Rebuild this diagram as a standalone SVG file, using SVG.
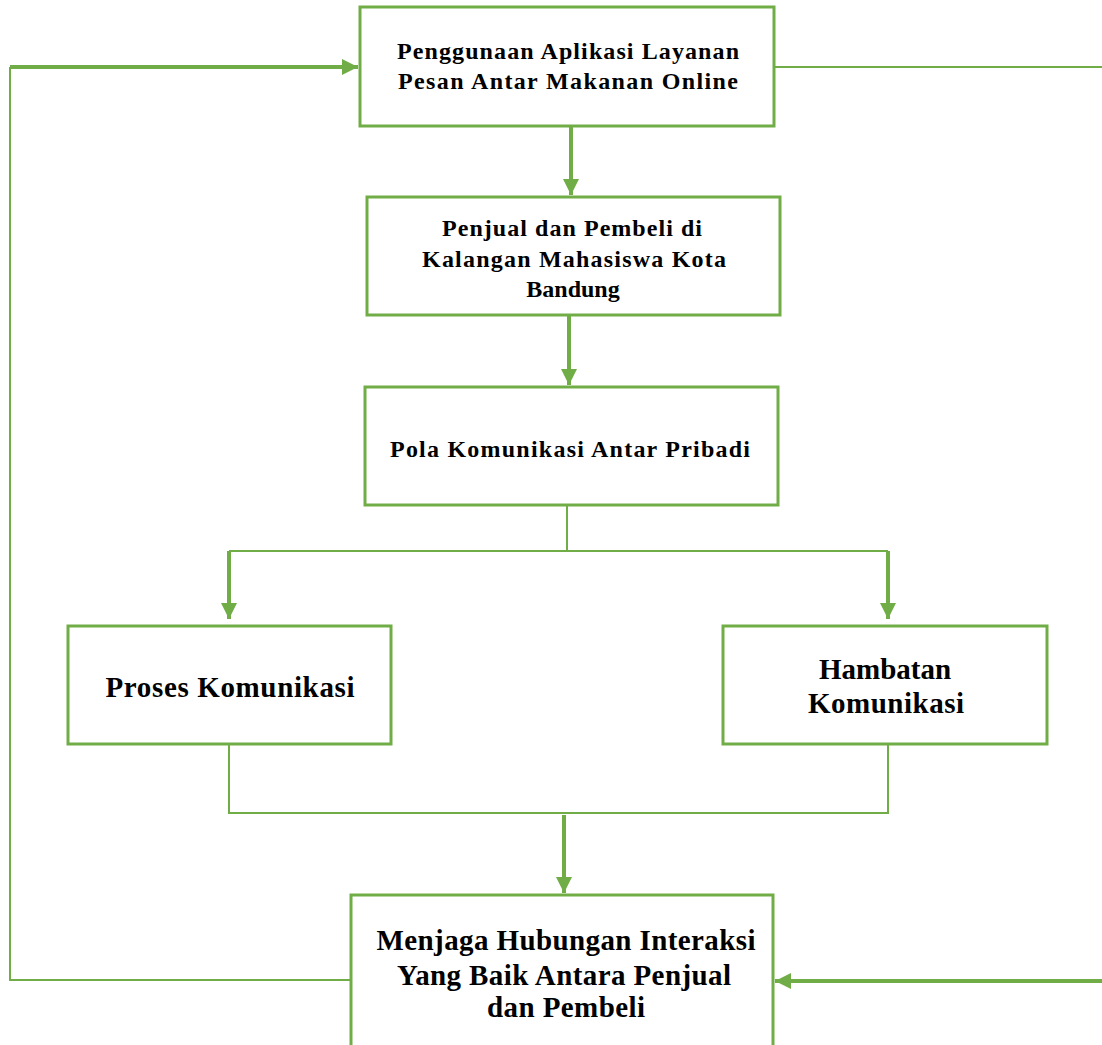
<svg xmlns="http://www.w3.org/2000/svg" width="1102" height="1045" viewBox="0 0 1102 1045">
<style>
.box{fill:#fff;stroke:#70AD47;stroke-width:3}
.thin{fill:none;stroke:#70AD47;stroke-width:2}
.thick{fill:none;stroke:#70AD47;stroke-width:4}
text{font-family:"Liberation Serif","Times New Roman",serif;font-weight:bold;fill:#000;text-anchor:middle}
.s{font-size:24px}
.m{font-size:29px}
.l{font-size:29px}
</style>
<defs>
<marker id="ah" viewBox="0 0 10 10" refX="10" refY="5" markerWidth="4" markerHeight="4" orient="auto" markerUnits="strokeWidth">
<path d="M0,0 L10,5 L0,10 z" fill="#70AD47"/>
</marker>
</defs>
<rect width="1102" height="1045" fill="#fff"/>
<g id="connectors">
<line class="thick" x1="571" y1="126" x2="571" y2="195" marker-end="url(#ah)"/>
<line class="thick" x1="569" y1="316" x2="569" y2="385" marker-end="url(#ah)"/>
<polyline class="thin" points="567,505 567,551"/>
<polyline class="thin" points="229,551 888,551"/>
<line class="thick" x1="229" y1="551" x2="229" y2="619" marker-end="url(#ah)"/>
<line class="thick" x1="888" y1="551" x2="888" y2="619" marker-end="url(#ah)"/>
<polyline class="thin" points="229,744 229,813 888,813 888,744"/>
<line class="thick" x1="564" y1="815" x2="564" y2="893" marker-end="url(#ah)"/>
<polyline class="thin" points="351,980 10,980 10,67"/>
<line class="thick" x1="10" y1="67" x2="358" y2="67" marker-end="url(#ah)"/>
<line class="thin" x1="774" y1="67" x2="1102" y2="67"/>
<line class="thick" x1="1102" y1="981" x2="775" y2="981" marker-end="url(#ah)"/>
</g>
<g id="n1">
<rect class="box" x="360" y="7" width="414" height="119"/>
<text class="s" x="568" y="59" textLength="342" lengthAdjust="spacing">Penggunaan Aplikasi Layanan</text>
<text class="s" x="568" y="89" textLength="340" lengthAdjust="spacing">Pesan Antar Makanan Online</text>
</g>
<g id="n2">
<rect class="box" x="367" y="197" width="413" height="118"/>
<text class="s" x="572" y="236" textLength="260" lengthAdjust="spacing">Penjual dan Pembeli di</text>
<text class="s" x="574" y="267" textLength="304" lengthAdjust="spacing">Kalangan Mahasiswa Kota</text>
<text class="s" x="573" y="297">Bandung</text>
</g>
<g id="n3">
<rect class="box" x="365" y="387" width="413" height="118"/>
<text class="s" x="570" y="457" textLength="360" lengthAdjust="spacing">Pola Komunikasi Antar Pribadi</text>
</g>
<g id="n4">
<rect class="box" x="68" y="626" width="323" height="118"/>
<text class="m" x="230" y="697" textLength="249" lengthAdjust="spacing">Proses Komunikasi</text>
</g>
<g id="n5">
<rect class="box" x="723" y="626" width="324" height="118"/>
<text class="m" x="885" y="679">Hambatan</text>
<text class="m" x="886" y="713" textLength="156" lengthAdjust="spacing">Komunikasi</text>
</g>
<g id="n6">
<rect class="box" x="351" y="895" width="422" height="160"/>
<text class="l" x="566" y="950" textLength="379" lengthAdjust="spacing">Menjaga Hubungan Interaksi</text>
<text class="l" x="564" y="985" textLength="334" lengthAdjust="spacing">Yang Baik Antara Penjual</text>
<text class="l" x="566" y="1017" textLength="158" lengthAdjust="spacing">dan Pembeli</text>
</g>
</svg>
